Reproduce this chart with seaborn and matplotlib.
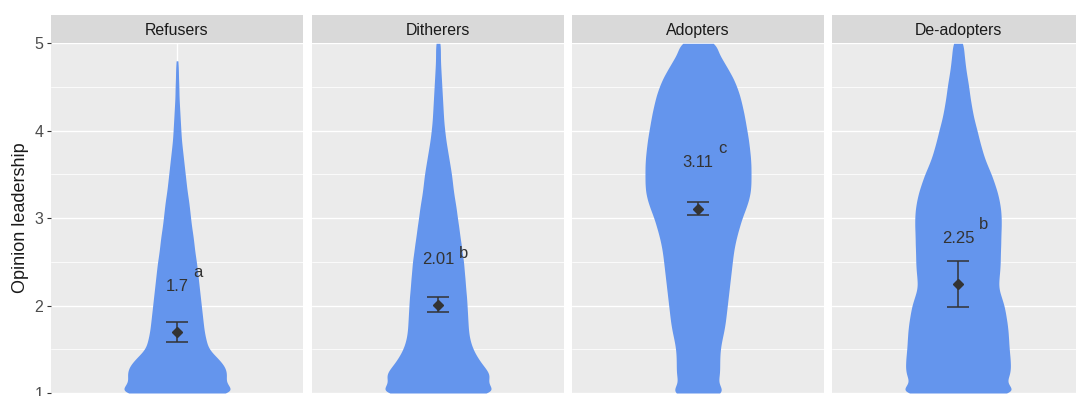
import numpy as np
import pandas as pd
import matplotlib
matplotlib.use("Agg")
import matplotlib.pyplot as plt
from matplotlib.patches import Rectangle
from matplotlib.ticker import FixedLocator
import seaborn as sns

# ---------------------------------------------------------------- data
groups = ["Refusers", "Ditherers", "Adopters", "De-adopters"]

# opinion-leadership scale values (1 = low, 5 = high)
score_levels = [1.0, 1.1, 1.2, 1.3, 1.4, 1.5, 1.6, 1.7, 1.8, 1.9,
                2.0, 2.1, 2.2, 2.3, 2.4, 2.5, 2.6, 2.7, 2.8, 2.9,
                3.0, 3.1, 3.2, 3.3, 3.4, 3.5, 3.6, 3.7, 3.8, 3.9,
                4.0, 4.1, 4.2, 4.3, 4.4, 4.5, 4.6, 4.7, 4.8, 4.9, 5.0]

# respondents at each score level, per group
refusers_n = [138, 95, 104, 100, 84, 64, 60, 56, 54, 52,
              50, 48, 46, 44, 42, 40, 37, 35, 33, 30,
              28, 26, 24, 21, 19, 17, 15, 13, 11, 9,
              8, 7, 6, 5, 4, 4, 3, 3, 2, 0, 0]
ditherers_n = [138, 95, 112, 95, 82, 72, 66, 63, 62, 61,
               60, 59, 57, 56, 54, 53, 50, 48, 45, 43,
               40, 38, 35, 32, 30, 28, 25, 22, 19, 16,
               14, 12, 11, 10, 9, 8, 7, 6, 5, 5, 5]
adopters_n = [61, 37, 43, 43, 43, 44, 47, 51, 54, 56,
              58, 60, 62, 64, 66, 68, 70, 73, 77, 82,
              87, 94, 100, 104, 105, 105, 105, 104, 102, 100,
              97, 94, 91, 87, 83, 77, 70, 60, 50, 39, 38]
deadopters_n = [138, 92, 106, 107, 106, 104, 103, 102, 100, 97,
                94, 88, 82, 83, 85, 86, 86, 87, 87, 88,
                88, 87, 84, 80, 74, 68, 60, 53, 48, 43,
                39, 34, 30, 27, 24, 22, 19, 16, 14, 12, 11]

# group means, standard errors and post-hoc letters
group_means = [1.70, 2.01, 3.11, 2.25]
group_se = [0.115, 0.085, 0.07, 0.265]
mean_labels = ["1.7", "2.01", "3.11", "2.25"]
posthoc_letters = ["a", "b", "c", "b"]

y_ticks = [1, 2, 3, 4, 5]
y_label = "Opinion leadership"

counts = [refusers_n, ditherers_n, adopters_n, deadopters_n]
frames = []
for g, n in zip(groups, counts):
    frames.append(pd.DataFrame({"group": g,
                                "score": np.repeat(score_levels, n)}))
df = pd.concat(frames, ignore_index=True)

# ---------------------------------------------------------------- style
sns.set_theme(style="white")
plt.rcParams["font.family"] = ["Liberation Sans", "DejaVu Sans"]

VIOLIN = "#6495ED"
PANEL_BG = "#EBEBEB"
STRIP_BG = "#D9D9D9"
INK = "#333333"
KDE_BW = 0.07           # absolute kernel bandwidth on the score axis
LABEL_RISE = 0.47       # mean label baseline above the mean
LETTER_RISE = [0.63, 0.53, 0.63, 0.63]

W, H = 1076, 396
fig = plt.figure(figsize=(W / 100, H / 100), dpi=100)
fig.patch.set_facecolor("white")

panel_left = [51, 312, 572, 832]
panel_w = 252
panel_top, panel_bottom = 43.3, 393.0
strip_h = 28.3

axes = []
for i, g in enumerate(groups):
    ax = fig.add_axes([panel_left[i] / W, (H - panel_bottom) / H,
                       panel_w / W, (panel_bottom - panel_top) / H])
    axes.append(ax)
    sub = df[df["group"] == g]["score"]
    sd = np.std(sub.values, ddof=1)

    ax.set_facecolor(PANEL_BG)
    sns.violinplot(y=sub, ax=ax, color=VIOLIN, saturation=1, inner=None,
                   linewidth=0, cut=0, density_norm="width", width=0.505,
                   bw_method=KDE_BW / sd, gridsize=400)

    m, se = group_means[i], group_se[i]
    ax.errorbar([0], [m], yerr=[se], fmt="none", ecolor=INK,
                elinewidth=1.1, capsize=8, capthick=1.1, zorder=4)
    ax.plot([0], [m], marker="D", markersize=5, color=INK, zorder=5,
            linestyle="none")

    num = ax.text(0, m + LABEL_RISE, mean_labels[i], ha="center",
                  va="baseline", fontsize=12, color=INK, zorder=6)
    ax.annotate(posthoc_letters[i], xy=(1.0, m + LETTER_RISE[i]),
                xycoords=(num, "data"), xytext=(3.6, 0),
                textcoords="offset points", ha="left", va="baseline",
                fontsize=12, color=INK, zorder=6)

    ax.set_xlim(-0.6, 0.6)
    ax.set_ylim(1, 5)
    ax.set_xlabel("")
    ax.set_ylabel("")
    ax.xaxis.set_major_locator(FixedLocator([0]))
    ax.set_xticklabels([""])
    ax.yaxis.set_major_locator(FixedLocator(y_ticks))
    ax.yaxis.set_minor_locator(FixedLocator([1.5, 2.5, 3.5, 4.5]))
    ax.set_axisbelow(True)
    ax.grid(True, which="major", axis="both", color="white", linewidth=1.0)
    ax.grid(True, which="minor", axis="y", color="white", linewidth=0.55)
    for s in ax.spines.values():
        s.set_visible(False)
    ax.tick_params(axis="x", length=0)
    ax.tick_params(axis="y", which="minor", length=0)
    if i == 0:
        ax.tick_params(axis="y", which="major", length=3, width=0.8,
                       color=INK, pad=2.5, labelsize=11.5,
                       labelcolor="#4D4D4D", left=True)
        ax.set_yticklabels([str(t) for t in y_ticks])
        ax.set_ylabel(y_label, fontsize=13, color="#1A1A1A")
        ax.yaxis.set_label_coords(-0.087, 0.5)
    else:
        ax.tick_params(axis="y", which="major", length=0, labelleft=False)

    # facet strip
    ax.add_patch(Rectangle((0, 1), 1, strip_h / (panel_bottom - panel_top),
                           transform=ax.transAxes, facecolor=STRIP_BG,
                           edgecolor="none", clip_on=False))
    ax.text(0.5, 1 + 0.5 * strip_h / (panel_bottom - panel_top), g,
            transform=ax.transAxes, ha="center", va="center_baseline",
            fontsize=11.4, color="#1A1A1A")

fig.savefig("out.png", dpi=100, facecolor="white")
